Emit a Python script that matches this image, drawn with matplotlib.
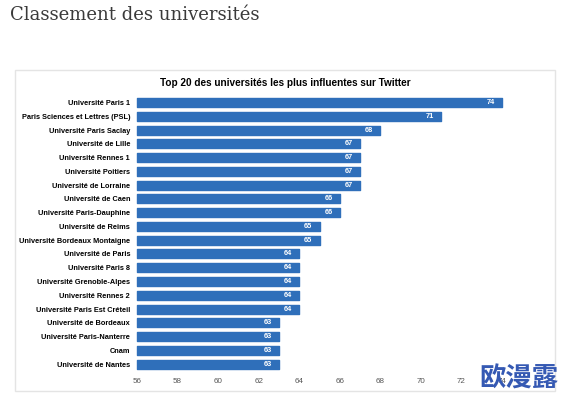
import matplotlib.pyplot as plt
from matplotlib.patches import Rectangle

# data
universites = ['Université Paris 1', 'Paris Sciences et Lettres (PSL)', 'Université Paris Saclay',
               'Université de Lille', 'Université Rennes 1', 'Université Poitiers',
               'Université de Lorraine', 'Université de Caen', 'Université Paris-Dauphine',
               'Université de Reims', 'Université Bordeaux Montaigne', 'Université de Paris',
               'Université Paris 8', 'Université Grenoble-Alpes', 'Université Rennes 2',
               'Université Paris Est Créteil', 'Université de Bordeaux', 'Université Paris-Nanterre',
               'Cnam', 'Université de Nantes']
scores = [74, 71, 68, 67, 67, 67, 67, 66, 66, 65, 65, 64, 64, 64, 64, 64, 63, 63, 63, 63]
xticks = [56, 58, 60, 62, 64, 66, 68, 70, 72, 74]

W, H = 561, 399
fig = plt.figure(figsize=(W / 100, H / 100), dpi=100)

# page title
fig.text(10 / W, 1 - 15 / H, 'Classement des universités', family='DejaVu Serif',
         fontsize=13, color='#3a3a3a', va='center', ha='left')

# light frame around the embedded chart (behind the axes)
fig.patches.append(Rectangle((15 / W, 1 - 391 / H), 540 / W, 321 / H, transform=fig.transFigure,
                             facecolor='white', edgecolor='#e4e4e4', lw=1, zorder=-1))

fig.text(285 / W, 1 - 83 / H, 'Top 20 des universités les plus influentes sur Twitter',
         family='Liberation Sans', weight='bold', fontsize=7.2, color='black',
         ha='center', va='center')

ax = fig.add_axes([137 / W, 1 - 371 / H, (502 - 137) / W, (371 - 95.6) / H])
ax.set_facecolor('none')
y = list(range(len(universites)))
ax.barh(y, [s - 56 for s in scores], left=56, height=0.65, color='#2f6fba',
        edgecolor='#2f6fba', lw=1, joinstyle='round', clip_on=False)
for yi, s in zip(y, scores):
    ax.text(s - 0.35, yi, str(s), color='white', weight='bold', fontsize=5.3,
            family='Liberation Sans', ha='right', va='center')

ax.set_xlim(56, 74)
ax.set_ylim(len(universites) - 0.5, -0.5)
ax.set_yticks(y)
ax.set_yticklabels(universites, family='Liberation Sans', weight='bold', fontsize=5.3)
ax.set_xticks(xticks)
ax.set_xticklabels([str(t) for t in xticks], family='Liberation Sans', fontsize=5.8, color='#555555')
ax.tick_params(length=0, pad=5)
ax.tick_params(axis='y', pad=5)
for sp in ax.spines.values():
    sp.set_visible(False)

# watermark
fig.text(519 / W, 1 - 379 / H, '欧漫露', family='Noto Sans CJK SC', weight='bold',
         fontsize=19, color='#3559b3', ha='center', va='center')

fig.savefig('out.png', dpi=100)
